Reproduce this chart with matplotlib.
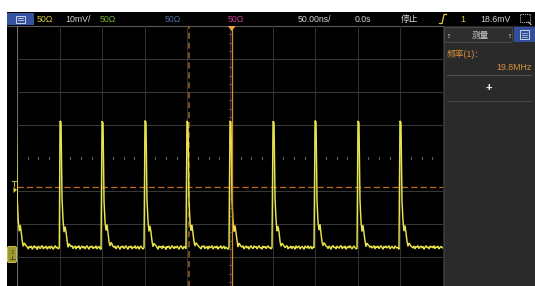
import numpy as np
import matplotlib
matplotlib.use("Agg")
import matplotlib.pyplot as plt
from matplotlib.patches import Rectangle, Polygon, FancyBboxPatch

plt.rcParams['font.family'] = ['Liberation Sans', 'Noto Sans CJK SC', 'DejaVu Sans']

# ---------------- data ----------------
time_per_div_ns = 50.0
volt_per_div_mV = 10.0
trigger_level_mV = 18.6
freq_text = "19.8MHz"
cursor_ns = -48.0
trigger_pos_ns = 2.0
sample_dt_ns = 50.0 / 42.6          # one screen pixel

edge_ns = [-252.0, -199.5, -150.2, -99.8, -50.5, 0.0, 50.5, 99.8, 150.2, 199.5]

period0_mV = [38.5, 38.0, 14.5, 8.2, 5.1, 6.9, 4.6, 2.1, 0.5, 1.5, 1.1, 0.6, 0.3, -0.3, 0.5, 0.1,
              0.6, -0.4, 0.2, 0.7, 0.0, 0.4, -0.5, 0.6, 0.2, -0.2, 0.5, 0.7, -0.3, 0.3, 0.1, 0.6,
              -0.4, 0.2, 0.5, -0.2, 0.6, 0.2, -0.4, 0.3, 0.7, 0.0, 0.2, -0.3, 0.1, 0.3]
period1_mV = [38.5, 38.2, 15.0, 8.5, 4.8, 6.5, 5.0, 2.4, 0.2, 1.3, 0.9, 0.4, 0.7, -0.2, 0.3, 0.6,
              -0.3, 0.5, 0.1, 0.7, -0.4, 0.2, 0.6, 0.0, 0.5, -0.3, 0.3, 0.7, 0.1, -0.4, 0.5, 0.2,
              0.6, -0.2, 0.3, 0.0, 0.7, -0.3, 0.2, 0.5, -0.2, -0.4, 0.0, 0.2, 0.1]
period2_mV = [38.4, 37.9, 14.2, 8.0, 5.3, 7.1, 4.4, 1.9, 0.6, 1.7, 1.2, 0.5, 0.2, 0.6, -0.3, 0.3,
              0.7, 0.1, -0.4, 0.5, 0.2, 0.6, -0.2, 0.3, 0.7, 0.0, -0.4, 0.5, 0.2, 0.6, -0.3, 0.3,
              0.1, 0.7, -0.2, 0.2, 0.5, -0.4, 0.3, 0.6, 0.0, -0.3, 0.1, 0.2, 0.0]
period3_mV = [38.6, 38.1, 14.8, 8.4, 5.0, 6.7, 4.8, 2.2, 0.4, 1.4, 1.0, 0.7, 0.2, -0.4, 0.6, 0.2,
              0.5, -0.2, 0.7, 0.1, 0.3, -0.5, 0.5, 0.2, 0.6, -0.3, 0.1, 0.7, 0.3, -0.2, 0.5, 0.0,
              0.6, 0.2, -0.4, 0.3, 0.7, 0.1, -0.3, 0.5, 0.2, -0.2, 0.0, 0.3, 0.1]
period4_mV = [38.5, 38.0, 14.6, 8.1, 5.2, 7.0, 4.5, 2.0, 0.6, 1.6, 1.2, 0.8, 0.4, 0.1, -0.3, 0.6,
              0.3, 0.7, -0.2, 0.2, 0.5, -0.4, 0.6, 0.1, 0.3, 0.7, -0.3, 0.2, 0.5, 0.0, 0.6, -0.4,
              0.3, 0.1, 0.7, -0.2, 0.2, 0.6, -0.3, 0.3, 0.0, -0.4, 0.1, 0.2, 0.0]
period5_mV = [38.5, 38.1, 14.4, 8.3, 4.9, 6.8, 4.7, 2.3, 0.3, 1.5, 1.0, 0.5, 0.3, 0.7, -0.3, 0.2,
              0.6, 0.0, 0.5, -0.4, 0.3, 0.7, 0.1, -0.2, 0.6, 0.2, 0.5, -0.3, 0.3, 0.7, 0.0, 0.2,
              -0.4, 0.6, 0.1, 0.5, -0.2, 0.3, 0.7, 0.0, 0.2, -0.3, 0.1, 0.3, 0.0]
period6_mV = [38.4, 38.0, 15.1, 8.6, 5.1, 6.6, 4.9, 2.0, 0.5, 1.4, 1.1, 0.6, 0.1, 0.5, 0.7, -0.3,
              0.3, 0.1, 0.6, -0.2, 0.5, 0.2, -0.4, 0.7, 0.0, 0.3, 0.6, -0.3, 0.2, 0.5, 0.1, -0.4,
              0.6, 0.3, 0.0, 0.7, -0.2, 0.2, 0.5, -0.3, 0.3, 0.1, -0.3, 0.0, 0.2]
period7_mV = [38.6, 38.2, 14.3, 7.9, 5.4, 7.2, 4.3, 1.8, 0.7, 1.6, 1.2, 0.6, 0.4, -0.2, 0.6, 0.2,
              -0.4, 0.5, 0.7, 0.1, 0.3, -0.3, 0.6, 0.2, 0.0, 0.5, 0.7, -0.2, 0.3, 0.1, 0.6, -0.4,
              0.2, 0.5, 0.0, 0.7, 0.2, -0.3, 0.3, 0.6, 0.1, -0.3, 0.0, 0.2, 0.1]
period8_mV = [38.5, 38.0, 14.7, 8.2, 5.0, 6.9, 4.6, 2.2, 0.4, 1.5, 1.0, 0.7, 0.2, 0.6, 0.0, 0.3,
              0.7, -0.3, 0.5, 0.1, 0.6, -0.2, 0.3, 0.7, 0.2, -0.4, 0.5, 0.1, 0.6, 0.0, 0.3, 0.7,
              -0.3, 0.2, 0.5, 0.1, -0.2, 0.6, 0.3, 0.0, 0.2, -0.4, 0.1, 0.2, 0.0]
period9_mV = [38.5, 38.1, 14.5, 8.3, 5.1, 6.8, 4.7, 2.1, 0.5, 1.5, 1.1, 0.6, 0.3, 0.0, 0.6, -0.3,
              0.5, 0.2, 0.7, -0.2, 0.3, 0.6, 0.0, 0.5, -0.4, 0.2, 0.7, 0.1, 0.3, -0.3, 0.6, 0.2,
              0.5, 0.0, 0.7, -0.2, 0.3, 0.2, 0.6, -0.3, 0.1, 0.5, 0.2, 0.0, 0.3, 0.1]
periods_mV = [period0_mV, period1_mV, period2_mV, period3_mV, period4_mV,
              period5_mV, period6_mV, period7_mV, period8_mV, period9_mV]

header_items = [("50Ω", 37, '#d4cc3c'), ("10mV/", 65, '#d2d2d2'), ("50Ω", 100, '#7fb232'),
                ("50Ω", 165, '#4d6ca6'), ("50Ω", 228, '#c83c8e'), ("50.00ns/", 298, '#d2d2d2'),
                ("0.0s", 355, '#d2d2d2'), ("停止", 401, '#d2d2d2'), ("1", 460, '#d8d040'),
                ("18.6mV", 480, '#d2d2d2')]

# ---------------- figure ----------------
W, H = 535, 286
fig = plt.figure(figsize=(W / 100, H / 100), dpi=100, facecolor='black')

bg = fig.add_axes([0, 0, 1, 1], zorder=0)
bg.set_xlim(0, W); bg.set_ylim(H, 0); bg.axis('off')
bg.add_patch(Rectangle((0, 0), W, 12, color='white', lw=0))
bg.add_patch(Rectangle((0, 0), 7, H, color='white', lw=0))
bg.add_patch(Rectangle((443, 26), W - 443, H - 26, color='#2a2a2a', lw=0))
bg.plot([443.5, 443.5], [26, H], color='#3c3c3c', lw=0.8)
bg.plot([7, 443], [26, 26], color='#5a5a5a', lw=0.8)

# scope axes: pixel x 17..443, y 26..290 (8 divisions of 33 px)
ax = fig.add_axes([17 / W, (H - 290) / H, 426 / W, 264 / H], zorder=1)
ax.set_xlim(-5 * time_per_div_ns, 5 * time_per_div_ns)
ax.set_ylim(-4, 4)
ax.axis('off')
ax.patch.set_alpha(0)

for k in range(10):
    x = -250 + 50 * k
    ax.axvline(x, color='#6e6e6e' if k == 0 else '#2f2f2f', lw=0.8, zorder=1)
for y in [-3, -2, -1, 1, 2, 3]:
    ax.axhline(y, color='#363636', lw=0.8, zorder=1)
# centre tick marks
for k in range(40):
    if k % 4:
        x = -250 + 12.5 * k
        ax.plot([x, x], [-0.035, 0.035], color='#5c5c5c', lw=0.8, zorder=1)
for k in range(32):
    if k % 4:
        y = -4 + 0.25 * k
        ax.plot([-1.2, 1.2], [y, y], color='#4a4a4a', lw=0.8, zorder=1)

ground_div = (157 - 247) / 33.0

def to_div(v):
    return ground_div + np.asarray(v) / volt_per_div_mV

# trigger level & cursors
ax.axhline(to_div(trigger_level_mV), color='#c26a1e', lw=0.9, dashes=(5, 2.5), zorder=2)
ax.axvline(cursor_ns, color='#9c6420', lw=1.1, dashes=(4, 2.5), zorder=2)
ax.axvline(trigger_pos_ns, color='#e38a22', lw=0.9, zorder=4)

# trace
ts, vs = [], []
for i, vals in enumerate(periods_mV):
    t = edge_ns[i] + sample_dt_ns * np.arange(len(vals))
    v = np.array(vals)
    if i + 1 < len(edge_ns):
        keep = t < edge_ns[i + 1] - 0.05
        t, v = t[keep], v[keep]
    ts.append(t); vs.append(v)
t_all = np.concatenate(ts)
v_all = np.concatenate(vs)
ax.plot(t_all, to_div(v_all), color='#e8e44c', lw=1.05, zorder=3, solid_joinstyle='miter')

# ---------------- foreground UI ----------------
fg = fig.add_axes([0, 0, 1, 1], zorder=2)
fg.set_xlim(0, W); fg.set_ylim(H, 0); fg.axis('off')
fg.patch.set_alpha(0)

# header menu button
fg.add_patch(Rectangle((7, 13), 26.5, 12, color='#3553a0', lw=0))
fg.add_patch(Rectangle((16, 15.5), 9, 7, fill=False, ec='#c8d0e8', lw=0.7))
fg.plot([18, 23], [18.2, 18.2], color='#c8d0e8', lw=0.6)
fg.plot([18, 23], [20.2, 20.2], color='#c8d0e8', lw=0.6)

for txt, x, col in header_items:
    fg.text(x, 19.3, txt, color=col, fontsize=6.3, ha='left', va='center')

# trigger edge icon
fg.plot([439.5, 442, 444, 446.5], [23.5, 23.5, 14.5, 14.5], color='#e0d030', lw=0.9)
# zoom icon
fg.add_patch(Rectangle((520, 13.5), 9.5, 8.5, fill=False, ec='#bdbdbd', lw=0.7, ls=(0, (1.2, 1))))
fg.plot([528, 531], [22, 24.5], color='#bdbdbd', lw=0.8)

# top trigger position marker
tx = 231.7
fg.add_patch(Polygon([[tx - 4, 26], [tx + 4, 26], [tx, 31]], closed=True, color='#f0a040', lw=0))

# trigger level marker on left
fg.plot([11.5, 16.5], [180.5, 180.5], color='#b8b04a', lw=0.8)
fg.plot([14, 14], [180.5, 185.5], color='#b8b04a', lw=0.8)
fg.add_patch(Polygon([[13.5, 187], [13.5, 193], [17, 190]], closed=True, color='#d8d040', lw=0))

# channel ground marker
fg.add_patch(FancyBboxPatch((7.5, 246.5), 9, 16, boxstyle='round,pad=0,rounding_size=1.5',
                            fc='#9e9832', ec='#c8c24a', lw=0.7))
fg.text(12, 252.5, "1", color='#4a4612', fontsize=4.5, ha='center', va='center')
fg.plot([9.5, 14.5], [258.5, 258.5], color='#4a4612', lw=0.6)
fg.plot([12, 12], [256, 258.5], color='#4a4612', lw=0.6)

# right measurement panel
fg.add_patch(FancyBboxPatch((444.5, 27.5), 68, 15, boxstyle='round,pad=0,rounding_size=2',
                            fc='#2e2e2e', ec='#484848', lw=0.7))
fg.text(480, 35.3, "测量", color='#cfcfcf', fontsize=6.2, ha='center', va='center')
for gx in (447.5, 508.5):
    for dx in (0, 1.8):
        for dy in (-1.5, 0, 1.5):
            fg.plot(gx + dx, 35 + dy, 's', ms=0.6, color='#8a8a8a', mew=0)
fg.add_patch(Rectangle((514, 27), 21, 15, color='#32509a', lw=0))
fg.add_patch(Rectangle((520, 30), 8.5, 9, fill=False, ec='#c8d0e8', lw=0.7))
for yy in (32.5, 34.5, 36.5):
    fg.plot([522, 526.5], [yy, yy], color='#c8d0e8', lw=0.5)

fg.text(447, 54, "频率(1)：", color='#d8903a', fontsize=6.3, ha='left', va='center')
fg.text(531.5, 67.5, freq_text, color='#d8903a', fontsize=6.3, ha='right', va='center')
fg.plot([447, 531], [74.5, 74.5], color='#505050', lw=0.8)
fg.text(489, 87.5, "+", color='white', fontsize=8, ha='center', va='center', fontweight='bold')
fg.plot([447, 531], [101, 101], color='#464646', lw=0.8)

fig.savefig("out.png", dpi=100, facecolor='black')
